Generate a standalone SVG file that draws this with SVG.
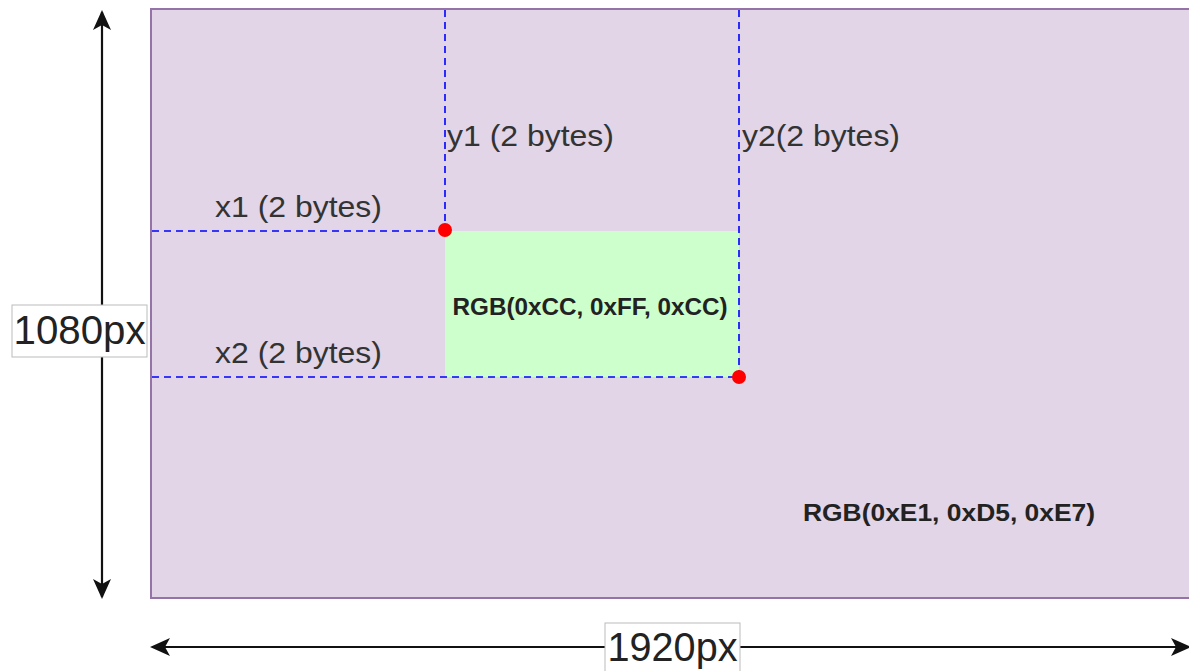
<svg xmlns="http://www.w3.org/2000/svg" width="1189" height="671" viewBox="0 0 1189 671">
<defs>
<style>
.lbl{font-family:"Liberation Sans",Arial,sans-serif;font-size:30px;fill:#333333}
.big{font-family:"Liberation Sans",Arial,sans-serif;font-size:40px;fill:#222222}
.rgb{font-family:"Liberation Sans",Arial,sans-serif;font-size:23px;font-weight:bold;fill:#222222}
.dash{stroke:#0000FF;stroke-width:1.6;stroke-dasharray:7 5;fill:none}
.dim{stroke:#111111;stroke-width:2.2;fill:none}
.box{fill:#FFFFFF;stroke:#BBBBBB;stroke-width:1}
.dot{fill:#FF0000}
</style>
<marker id="ah" viewBox="0 0 20 20" refX="18" refY="10" markerWidth="20" markerHeight="20" markerUnits="userSpaceOnUse" orient="auto-start-reverse">
<path d="M0,1 L20,10 L0,19 L5,10 Z" fill="#111111"/>
</marker>
</defs>
<rect width="1189" height="671" fill="#FFFFFF"/>
<g id="screen">
<rect x="151" y="9" width="1050" height="589" fill="#E1D5E7" stroke="#9673A6" stroke-width="2"/>
<text class="rgb" x="949" y="521" text-anchor="middle" textLength="292" lengthAdjust="spacingAndGlyphs">RGB(0xE1, 0xD5, 0xE7)</text>
</g>
<g id="region">
<rect x="445" y="231" width="294" height="146" fill="#CCFFCC"/>
<text class="rgb" x="590" y="315" text-anchor="middle" textLength="275" lengthAdjust="spacingAndGlyphs">RGB(0xCC, 0xFF, 0xCC)</text>
</g>
<g id="connectors">
<line class="dash" x1="445" y1="10" x2="445" y2="230"/>
<line class="dash" x1="739" y1="10" x2="739" y2="377"/>
<line class="dash" x1="152" y1="231" x2="445" y2="231"/>
<line class="dash" x1="152" y1="377" x2="739" y2="377"/>
<line class="dim" x1="102" y1="12" x2="102" y2="597" marker-start="url(#ah)" marker-end="url(#ah)"/>
<line class="dim" x1="152" y1="647" x2="1189" y2="647" marker-start="url(#ah)" marker-end="url(#ah)"/>
</g>
<g id="points">
<circle class="dot" cx="445" cy="230" r="7"/>
<circle class="dot" cx="739" cy="377" r="7"/>
</g>
<g id="labels">
<text class="lbl" x="447" y="146" textLength="167" lengthAdjust="spacingAndGlyphs">y1 (2 bytes)</text>
<text class="lbl" x="742" y="146" textLength="158" lengthAdjust="spacingAndGlyphs">y2(2 bytes)</text>
<text class="lbl" x="215" y="217" textLength="167" lengthAdjust="spacingAndGlyphs">x1 (2 bytes)</text>
<text class="lbl" x="215" y="363" textLength="167" lengthAdjust="spacingAndGlyphs">x2 (2 bytes)</text>
</g>
<g id="height-label">
<rect class="box" x="12" y="305" width="135" height="52"/>
<text class="big" x="79.5" y="344" text-anchor="middle" textLength="132" lengthAdjust="spacingAndGlyphs">1080px</text>
</g>
<g id="width-label">
<rect class="box" x="605" y="623" width="135" height="52"/>
<text class="big" x="672.5" y="661" text-anchor="middle" textLength="130" lengthAdjust="spacingAndGlyphs">1920px</text>
</g>
</svg>
